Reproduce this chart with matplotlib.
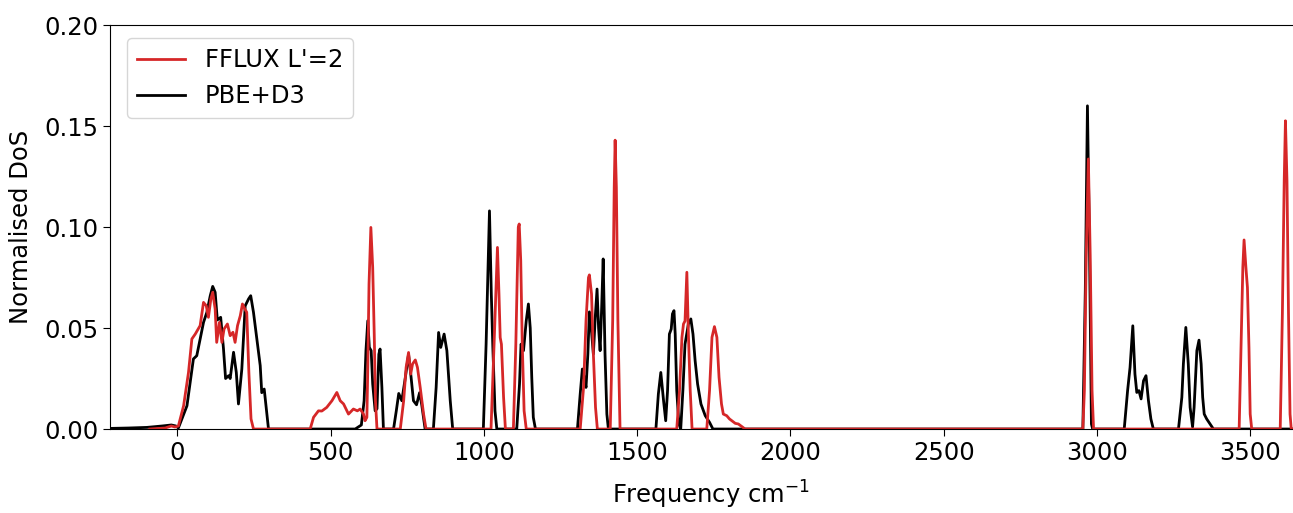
import matplotlib
matplotlib.use("Agg")
import matplotlib.pyplot as plt

# PBE+D3 density of states (frequency in cm^-1, normalised DoS)
pbe_freq = [-220, -160, -100, -50, -20, -5, 3, 31, 52, 63, 74, 85, 96, 107, 115, 123, 130, 141,
            150, 157, 167, 172, 183, 192, 199, 210, 221, 232, 239, 248, 259, 270, 275, 283, 289, 297,
            580, 600, 609, 615, 621, 626, 632, 637, 645, 651, 657, 661, 667, 672,
            705, 714, 722, 732, 743, 754, 762, 770, 780, 790, 797, 808,
            835, 844, 852, 859, 870, 879, 890, 898,
            998, 1007, 1018, 1024, 1029, 1036, 1042,
            1107, 1116, 1121, 1129, 1138, 1145, 1151, 1156, 1161, 1168,
            1305, 1314, 1321, 1327, 1333, 1339, 1344, 1350, 1357, 1363, 1369, 1374, 1379, 1384,
            1389, 1395, 1401, 1406,
            1561, 1569, 1577, 1586, 1593, 1599, 1605, 1611, 1615, 1620, 1624, 1629, 1636, 1642,
            1649, 1656, 1667, 1675, 1682, 1689, 1697, 1708, 1722, 1736, 1747,
            2954, 2962, 2969, 2976, 2982, 2986,
            3089, 3100, 3108, 3117, 3124, 3130, 3137, 3144, 3152, 3160, 3168, 3176, 3184,
            3266, 3277, 3282, 3290, 3298, 3304, 3312, 3317, 3326, 3333, 3340, 3345, 3350, 3358,
            3369, 3380, 3700]
pbe_dos = [0.0003, 0.0005, 0.0008, 0.0015, 0.002, 0.0015, 0.0005, 0.0115, 0.0347, 0.0363, 0.0446,
           0.0528, 0.0578, 0.066, 0.0706, 0.0677, 0.054, 0.0553,
           0.04, 0.025, 0.0264, 0.025, 0.038, 0.028, 0.0124, 0.0297, 0.061, 0.0644, 0.066, 0.0578,
           0.0446, 0.0314, 0.018, 0.0198, 0.0115, 0.0,
           0.0, 0.002, 0.014, 0.0388, 0.0536, 0.0404, 0.0388, 0.0223, 0.009, 0.01, 0.037, 0.0396,
           0.0206, 0.0,
           0.0, 0.009, 0.0176, 0.014, 0.025, 0.037, 0.026, 0.014, 0.012, 0.018, 0.012, 0.0,
           0.0, 0.0206, 0.0478, 0.0404, 0.047, 0.0388, 0.014, 0.0,
           0.0, 0.042, 0.108, 0.0668, 0.0404, 0.009, 0.0,
           0.0, 0.0223, 0.042, 0.0388, 0.0536, 0.0619, 0.05, 0.0255, 0.0058, 0.0,
           0.0, 0.0173, 0.0297, 0.0255, 0.0206, 0.0371, 0.058, 0.05, 0.0371, 0.055, 0.0693, 0.05,
           0.0388, 0.06, 0.0842, 0.0371, 0.0074, 0.0,
           0.0, 0.0173, 0.028, 0.014, 0.0041, 0.019, 0.047, 0.0495, 0.057, 0.0586, 0.047, 0.019,
           0.0025, 0.0, 0.019, 0.042, 0.052, 0.0545, 0.047, 0.0338, 0.0223, 0.0124, 0.0066,
           0.0033, 0.0,
           0.0, 0.0685, 0.16, 0.0861, 0.0025, 0.0,
           0.0, 0.019, 0.0305, 0.0511, 0.0272, 0.0181, 0.019, 0.0149, 0.0239, 0.0264, 0.0141,
           0.005, 0.0,
           0.0, 0.0157, 0.0322, 0.0503, 0.0322, 0.0107, 0.001, 0.0107, 0.0388, 0.044, 0.0322,
           0.0157, 0.0074, 0.005, 0.0025, 0.0, 0.0]

# FFLUX L'=2 density of states
fflux_freq = [-90, -40, -20, -8, 3, 20, 36, 47, 58, 74, 85, 94, 101, 109, 115, 123, 128, 137, 145,
              152, 163, 172, 181, 188, 196, 205, 212, 220, 226, 233, 240, 248,
              433, 444, 460, 471, 487, 504, 520, 531, 542, 558, 574, 587, 596, 607, 612, 618, 621,
              625, 631, 637, 642, 646, 651,
              727, 738, 746, 754, 761, 767, 776, 783, 792, 803, 811,
              1023, 1033, 1044, 1049, 1053, 1057, 1064, 1070,
              1096, 1104, 1112, 1115, 1120, 1125, 1131, 1138,
              1314, 1325, 1333, 1341, 1344, 1351, 1357, 1364, 1370,
              1412, 1420, 1425, 1428, 1432, 1437, 1444,
              1629, 1638, 1646, 1651, 1656, 1662, 1667, 1673, 1679,
              1727, 1736, 1744, 1752, 1760, 1767, 1775, 1781, 1792, 1801, 1809, 1820, 1830, 1852,
              2954, 2959, 2965, 2972, 2978, 2984, 2989,
              3464, 3470, 3476, 3480, 3486, 3491, 3496, 3500, 3505,
              3598, 3605, 3611, 3615, 3620, 3625, 3630, 3634, 3700]
fflux_dos = [0.0, 0.0005, 0.0015, 0.001, 0.0015, 0.0115, 0.028, 0.0446, 0.047, 0.0512, 0.0627,
             0.061, 0.0553, 0.0644, 0.0677, 0.0594, 0.0429, 0.0528, 0.0429,
             0.0495, 0.052, 0.0462, 0.0479, 0.0429, 0.0512, 0.0561, 0.0619, 0.0594, 0.0578, 0.028,
             0.005, 0.0,
             0.0, 0.0058, 0.009, 0.0089, 0.0107, 0.014, 0.0181, 0.014, 0.0124, 0.0074, 0.0099,
             0.009, 0.0099, 0.0074, 0.0041, 0.0058, 0.0305,
             0.0718, 0.0998, 0.08, 0.047, 0.014, 0.0,
             0.0, 0.014, 0.0305, 0.0379, 0.0272, 0.0322, 0.0342, 0.0305, 0.0206, 0.0074, 0.0,
             0.0, 0.042, 0.0899, 0.0668, 0.0453, 0.042, 0.0157, 0.0,
             0.0, 0.042, 0.0998, 0.1015, 0.0833, 0.042, 0.009, 0.0,
             0.0, 0.0206, 0.0536, 0.075, 0.0763, 0.0668, 0.0371, 0.0107, 0.0,
             0.0, 0.0536, 0.1196, 0.143, 0.1196, 0.0536, 0.0,
             0.0, 0.019, 0.0454, 0.052, 0.0535, 0.0776, 0.047, 0.019, 0.0,
             0.0, 0.019, 0.0454, 0.0507, 0.0454, 0.0256, 0.0124, 0.0074, 0.0066, 0.005, 0.0041,
             0.0028, 0.0025, 0.0,
             0.0, 0.019, 0.0861, 0.1337, 0.0861, 0.019, 0.0,
             0.0, 0.0404, 0.08, 0.0936, 0.08, 0.0701, 0.0404, 0.0074, 0.0,
             0.0, 0.057, 0.1229, 0.1526, 0.1229, 0.057, 0.0074, 0.0, 0.0]

x_ticks = [0, 500, 1000, 1500, 2000, 2500, 3000, 3500]
y_ticks = [0.00, 0.05, 0.10, 0.15, 0.20]

fig = plt.figure(figsize=(12.93, 5.13), dpi=100)
ax = fig.add_axes([0.0851, 0.1637, 0.9292, 0.7875])

l_pbe, = ax.plot(pbe_freq, pbe_dos, color="black", lw=2.0, label="PBE+D3")
l_ff, = ax.plot(fflux_freq, fflux_dos, color="#d62728", lw=2.0, label="FFLUX L'=2")

ax.set_xlim(-220, 3700)
ax.set_ylim(0, 0.20)
ax.set_xticks(x_ticks)
ax.set_yticks(y_ticks)
ax.set_yticklabels([f"{v:.2f}" for v in y_ticks])
ax.tick_params(labelsize=17.5, length=5)
ax.set_xlabel("Frequency cm$^{-1}$", fontsize=17.5, labelpad=10)
ax.set_ylabel("Normalised DoS", fontsize=17.5, labelpad=8)
ax.legend(handles=[l_ff, l_pbe], loc="upper left", fontsize=17.5,
          bbox_to_anchor=(0.008, 0.985), borderaxespad=0.3)

fig.savefig("out.png", dpi=100)
